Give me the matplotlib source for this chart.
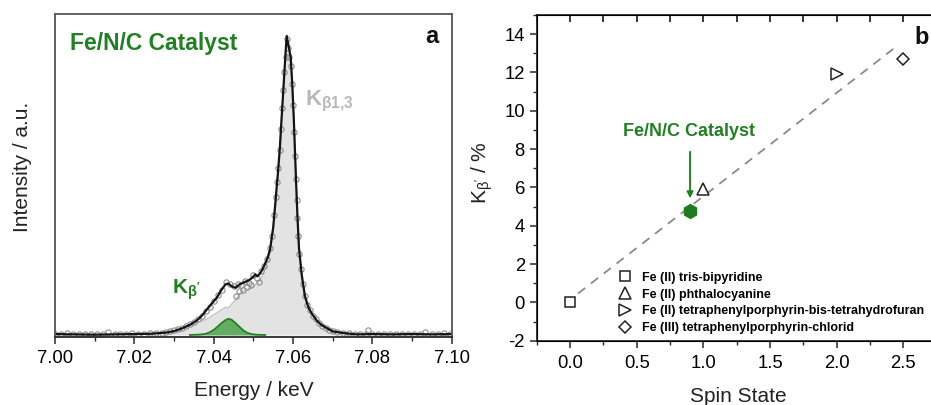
import matplotlib
matplotlib.use('Agg')
import matplotlib.pyplot as plt
from matplotlib.lines import Line2D
from matplotlib.ticker import MultipleLocator, FormatStrFormatter

plt.rcParams['font.family'] = ['Liberation Sans', 'DejaVu Sans']
plt.rcParams['mathtext.fontset'] = 'custom'
plt.rcParams['mathtext.rm'] = 'Liberation Sans'
plt.rcParams['mathtext.bf'] = 'Liberation Sans:bold'
plt.rcParams['mathtext.it'] = 'Liberation Sans:italic'
plt.rcParams['mathtext.default'] = 'regular'
plt.rcParams['axes.unicode_minus'] = False

GREEN = '#237f23'
AXCOL = '#2a2a2a'

# --- (a) Kbeta emission spectrum of the Fe/N/C catalyst (normalised intensity) ---
# measured points
data_e = [7.000, 7.0015, 7.003, 7.0045, 7.006, 7.0075, 7.009, 7.0105, 7.012, 7.0134,
          7.015, 7.0165, 7.018, 7.0195, 7.021, 7.0225, 7.024, 7.0255, 7.027, 7.028,
          7.029, 7.030, 7.031, 7.032, 7.033, 7.034, 7.035, 7.036, 7.037, 7.038,
          7.039, 7.040, 7.041, 7.042, 7.043, 7.044, 7.045, 7.0455, 7.046, 7.0465,
          7.047, 7.0475, 7.048, 7.0485, 7.049, 7.0495, 7.050, 7.051, 7.0515, 7.052,
          7.0528, 7.0535, 7.0542, 7.0548, 7.0553, 7.0557, 7.056, 7.0563, 7.0566, 7.0569,
          7.0572, 7.0575, 7.0578, 7.0581, 7.0584, 7.0588, 7.0591, 7.0594, 7.0597, 7.0600,
          7.0603, 7.0605, 7.0607, 7.0609, 7.0611, 7.0613, 7.0616, 7.062, 7.0625, 7.063,
          7.0636, 7.0643, 7.065, 7.0658, 7.0666, 7.0674, 7.0682, 7.069, 7.070, 7.071,
          7.0725, 7.074, 7.0755, 7.077, 7.0785, 7.079, 7.080, 7.0815, 7.083, 7.0845,
          7.086, 7.0875, 7.089, 7.0905, 7.092, 7.0933, 7.095, 7.0965, 7.098, 7.0995]
data_i = [0.004, 0.003, 0.005, 0.002, 0.004, 0.003, 0.002, 0.003, 0.002, 0.011,
          0.003, 0.002, 0.004, 0.005, 0.003, 0.004, 0.005, 0.006, 0.008, 0.010,
          0.012, 0.016, 0.020, 0.024, 0.029, 0.036, 0.043, 0.052, 0.063, 0.080,
          0.094, 0.112, 0.133, 0.152, 0.176, 0.172, 0.163, 0.130, 0.170, 0.146,
          0.168, 0.152, 0.182, 0.160, 0.175, 0.168, 0.200, 0.190, 0.178, 0.215,
          0.232, 0.255, 0.29, 0.33, 0.40, 0.46, 0.51, 0.56, 0.62, 0.69,
          0.76, 0.82, 0.88, 0.93, 0.99, 0.96, 0.93, 0.90, 0.84, 0.77,
          0.68, 0.60, 0.52, 0.45, 0.39, 0.33, 0.27, 0.22, 0.17, 0.13,
          0.10, 0.083, 0.064, 0.052, 0.040, 0.030, 0.022, 0.017, 0.013, 0.009,
          0.007, 0.005, 0.003, 0.004, 0.002, 0.017, 0.004, 0.003, 0.002, 0.004,
          0.003, 0.002, 0.003, 0.004, 0.002, 0.011, 0.003, 0.002, 0.007, 0.003]

# smoothed total spectrum and main Kbeta1,3 contribution
fit_e = [7.000, 7.005, 7.010, 7.015, 7.020, 7.024, 7.028, 7.030, 7.032, 7.034,
         7.0357, 7.037, 7.0382, 7.0395, 7.0408, 7.0418, 7.043, 7.0437, 7.0445, 7.0455,
         7.0466, 7.0478, 7.049, 7.050, 7.0505, 7.051, 7.0518, 7.0525, 7.0535, 7.0542,
         7.055, 7.0556, 7.0563, 7.0567, 7.057, 7.0576, 7.0581, 7.0584, 7.0589, 7.0594,
         7.0598, 7.0602, 7.0605, 7.0608, 7.0611, 7.0615, 7.0622, 7.063, 7.0638, 7.0647,
         7.066, 7.0672, 7.070, 7.073, 7.076, 7.080, 7.085, 7.090, 7.095, 7.100]
fit_i = [0.003, 0.002, 0.001, 0.002, 0.003, 0.004, 0.008, 0.013, 0.022, 0.034,
         0.048, 0.064, 0.084, 0.105, 0.125, 0.148, 0.170, 0.172, 0.163, 0.158,
         0.170, 0.177, 0.184, 0.195, 0.203, 0.196, 0.208, 0.225, 0.255, 0.285,
         0.36, 0.45, 0.56, 0.63, 0.70, 0.83, 0.94, 1.00, 0.965, 0.93,
         0.84, 0.72, 0.61, 0.50, 0.40, 0.29, 0.20, 0.13, 0.095, 0.072,
         0.048, 0.033, 0.012, 0.006, 0.002, 0.003, 0.002, 0.003, 0.002, 0.003]
main_i = [0.003, 0.002, 0.001, 0.002, 0.003, 0.004, 0.008, 0.012, 0.020, 0.030,
          0.040, 0.047, 0.052, 0.064, 0.074, 0.083, 0.093, 0.090, 0.103, 0.117,
          0.138, 0.150, 0.156, 0.163, 0.168, 0.175, 0.186, 0.203, 0.240, 0.275,
          0.36, 0.45, 0.56, 0.63, 0.70, 0.83, 0.94, 1.00, 0.965, 0.93,
          0.84, 0.72, 0.61, 0.50, 0.40, 0.29, 0.20, 0.13, 0.095, 0.072,
          0.048, 0.033, 0.012, 0.006, 0.002, 0.003, 0.002, 0.003, 0.002, 0.003]

# Kbeta' satellite
sat_e = [7.034, 7.036, 7.037, 7.038, 7.039, 7.040, 7.041, 7.042, 7.043, 7.0437,
         7.0445, 7.0455, 7.0465, 7.0475, 7.0485, 7.0495, 7.051, 7.053]
sat_i = [0.0, 0.001, 0.002, 0.004, 0.009, 0.017, 0.028, 0.040, 0.050, 0.054,
         0.051, 0.040, 0.027, 0.015, 0.007, 0.003, 0.0005, 0.0]

# --- (b) Kbeta' fraction vs spin state for the reference compounds ---
ref_names = ['Fe (II) tris-bipyridine',
             'Fe (II) phthalocyanine',
             'Fe (II) tetraphenylporphyrin-bis-tetrahydrofuran',
             'Fe (III) tetraphenylporphyrin-chlorid']
ref_spin = [0.0, 1.0, 2.0, 2.5]
ref_kbp = [0.0, 5.9, 11.9, 12.7]
ref_markers = ['s', '^', '>', 'D']
ref_sizes = [7, 8, 8, 6]

cat_spin = 0.9
cat_kbp = 4.75

fit_slope = 5.4
fit_offset = 0.14
fit_range = [0.06, 2.46]

fig = plt.figure(figsize=(9.31, 4.05), dpi=100)

# ---------------- panel a ----------------
ax1 = fig.add_axes([0.0591, 0.1667, 0.4261, 0.7988])
ax1.fill_between(fit_e, 0, main_i, color='#e3e3e3', lw=0)
ax1.plot(fit_e, main_i, color='#c4c4c4', lw=1.0)
ax1.fill_between(sat_e, 0, sat_i, color='#62ad62', lw=0)
ax1.plot(sat_e, sat_i, color=GREEN, lw=1.3)
ax1.plot(data_e, data_i, 'o', ms=3.8, mfc='none', mec='#8c8c8c', mew=0.8)
ax1.plot(fit_e, fit_i, color='#141414', lw=1.6)

ax1.set_xlim(7.0, 7.1)
ax1.set_ylim(-0.0084, 1.0736)
ax1.xaxis.set_major_locator(MultipleLocator(0.02))
ax1.xaxis.set_minor_locator(MultipleLocator(0.01))
ax1.xaxis.set_major_formatter(FormatStrFormatter('%.2f'))
ax1.set_yticks([])
ax1.tick_params(axis='x', which='major', direction='out', length=5, width=1.1,
                color=AXCOL, labelsize=13.3, pad=4)
ax1.tick_params(axis='x', which='minor', direction='out', length=3, width=1.0, color=AXCOL)
for sp in ax1.spines.values():
    sp.set_linewidth(1.3)
    sp.set_color('#555555')
ax1.spines['bottom'].set_color(AXCOL)

ax1.set_xlabel('Energy / keV', fontsize=15, color='#222222')
ax1.xaxis.set_label_coords(0.5, -0.136)
ax1.set_ylabel('Intensity / a.u.', fontsize=15, color='#222222')
ax1.yaxis.set_label_coords(-0.058, 0.527)

ax1.text(0.038, 0.910, 'Fe/N/C Catalyst', transform=ax1.transAxes, color=GREEN,
         fontsize=16.5, fontweight='bold', ha='left', va='center')
ax1.text(0.95, 0.929, 'a', transform=ax1.transAxes, fontsize=17, fontweight='bold',
         ha='center', va='center', color='#111111')
ax1.text(7.063, 0.78, r'$\mathbf{K_{\beta 1{,}3}}$', color='#b8b8b8', fontsize=16,
         ha='left', va='center')
ax1.text(7.0294, 0.15, r"$\mathbf{K_{\beta'}}$", color=GREEN, fontsize=15,
         ha='left', va='center')

# ---------------- panel b ----------------
ax2 = fig.add_axes([0.5765, 0.1588, 0.4297, 0.8042])
ax2.plot(fit_range, [fit_offset + fit_slope * s for s in fit_range],
         ls=(0, (5, 4)), color='#8a8a8a', lw=1.3, zorder=1)
handles = []
for name, s, k, m, ms in zip(ref_names, ref_spin, ref_kbp, ref_markers, ref_sizes):
    ax2.plot(s, k, m, ms=ms, mfc='white', mec='#222222', mew=1.1, zorder=3)
    handles.append(Line2D([], [], ls='none', marker=m, ms=ms, mfc='white',
                          mec='#222222', mew=1.1, label=name))
ax2.plot(cat_spin, cat_kbp, 'h', ms=10, color='#1f7a1f', mec='#1f7a1f', zorder=4)
ax2.annotate('', xy=(cat_spin, 5.43), xytext=(cat_spin, 7.86),
             arrowprops=dict(arrowstyle='-|>', color=GREEN, lw=1.4,
                             mutation_scale=9, shrinkA=0, shrinkB=0))
ax2.text(0.89, 8.9, 'Fe/N/C Catalyst', color=GREEN, fontsize=13, fontweight='bold',
         ha='center', va='center')
ax2.text(2.635, 13.85, 'b', fontsize=17, fontweight='bold', ha='center', va='center',
         color='#111111')

ax2.legend(handles=handles, loc='upper left', bbox_to_anchor=(0.205, 0.212),
           frameon=False, prop={'weight': 'bold', 'size': 9}, handlelength=1.0,
           handletextpad=0.85, labelspacing=0.39, borderpad=0, borderaxespad=0)

ax2.set_xlim(-0.25, 2.75)
ax2.set_ylim(-2, 15)
ax2.xaxis.set_major_locator(MultipleLocator(0.5))
ax2.xaxis.set_minor_locator(MultipleLocator(0.25))
ax2.xaxis.set_major_formatter(FormatStrFormatter('%.1f'))
ax2.yaxis.set_major_locator(MultipleLocator(2))
ax2.yaxis.set_minor_locator(MultipleLocator(1))
ax2.tick_params(axis='both', which='major', direction='out', length=5, width=1.1,
                color=AXCOL, labelsize=13.3)
ax2.tick_params(axis='both', which='minor', direction='out', length=3, width=1.0,
                color=AXCOL)
ax2.tick_params(axis='x', which='major', pad=5)
for sp in ax2.spines.values():
    sp.set_linewidth(1.3)
    sp.set_color(AXCOL)

# mirrored ticks along the top edge, pointing inward
ax2t = ax2.twiny()
ax2t.set_xlim(ax2.get_xlim())
ax2t.xaxis.set_major_locator(MultipleLocator(0.25))
ax2t.xaxis.set_ticks_position('top')
ax2t.tick_params(axis='x', which='major', direction='in', length=5, width=1.3,
                 color=AXCOL, labeltop=False)
ax2t.tick_params(axis='x', which='minor', top=False, bottom=False)

ax2.set_xlabel('Spin State', fontsize=15, color='#222222')
ax2.xaxis.set_label_coords(0.503, -0.141)
ax2.set_ylabel(r"K$_{\beta'}$ / %", fontsize=15, color='#222222')
ax2.yaxis.set_label_coords(-0.105, 0.515)

fig.savefig('out.png', dpi=100)
